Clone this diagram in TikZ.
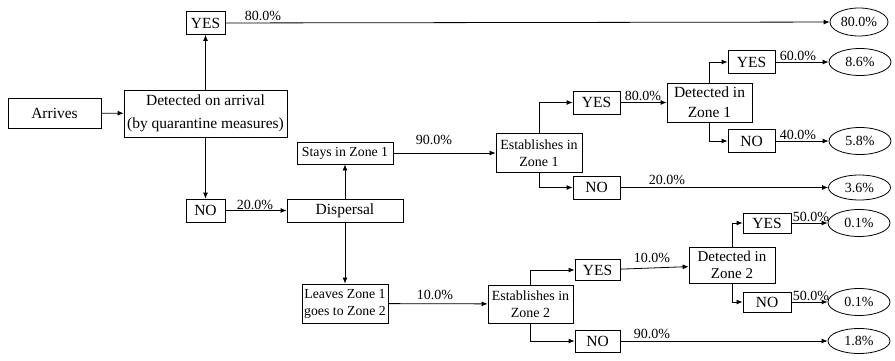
\documentclass[tikz,border=0pt]{standalone}
\usepackage{fontspec}
\setmainfont{Liberation Serif}
\usetikzlibrary{shapes.geometric,arrows.meta}
\begin{document}
\begin{tikzpicture}[x=1pt,y=-1pt,
 box/.style={draw,line width=0.8pt,inner sep=0pt,align=center,font=\fontsize{15.5}{23}\selectfont},
 zbox/.style={box,font=\fontsize{13.8}{17}\selectfont},
 res/.style={draw,ellipse,line width=0.8pt,inner sep=0pt,minimum width=62pt,minimum height=27pt,font=\fontsize{14}{16}\selectfont},
 arr/.style={line width=0.8pt,-{Latex[length=6pt,width=5pt]}},
 pct/.style={font=\fontsize{14}{16}\selectfont,inner sep=1pt,anchor=south}]
\useasboundingbox (0,0) rectangle (895,361);
% first stage
\node[box,minimum width=93pt,minimum height=30pt] (arr) at (54.5,113) {Arrives};
\node[box,minimum width=163pt,minimum height=47pt] (det) at (205.5,113.5) {Detected on arrival\\(by quarantine measures)};
\node[box,minimum width=39pt,minimum height=23pt] (yes0) at (205.5,23) {YES};
\node[box,minimum width=39pt,minimum height=23pt] (no0) at (205.5,210.5) {NO};
\node[box,minimum width=116pt,minimum height=23pt] (disp) at (345,210.5) {Dispersal};
\node[zbox,minimum width=96pt,minimum height=22pt] (stay) at (345,153) {Stays in Zone 1};
\node[zbox,minimum width=86pt,minimum height=39pt] (leave) at (345,303.5) {Leaves Zone 1\\goes to Zone 2};
\node[res,minimum width=58pt,minimum height=28pt] (e0) at (859,22) {80.0\%};
% zone 1
\node[zbox,minimum width=86pt,minimum height=39pt,font=\fontsize{14}{17}\selectfont] (est1) at (539,153) {Establishes in\\Zone 1};
\node[box,minimum width=47pt,minimum height=23pt] (yes1) at (596.5,102.5) {YES};
\node[box,minimum width=47pt,minimum height=23pt] (no1) at (596.5,187.5) {NO};
\node[box,minimum width=85pt,minimum height=39pt,font=\fontsize{15.5}{20}\selectfont] (det1) at (709.5,102.5) {Detected in\\Zone 1};
\node[box,minimum width=47pt,minimum height=23pt] (yes11) at (751.5,62) {YES};
\node[box,minimum width=47pt,minimum height=23pt] (no11) at (751.5,141) {NO};
\node[res] (e11) at (860,62) {8.6\%};
\node[res] (e12) at (860,141) {5.8\%};
\node[res,minimum height=25pt] (e13) at (859.5,187.5) {3.6\%};
% zone 2
\node[zbox,minimum width=85pt,minimum height=38pt,font=\fontsize{14}{17}\selectfont] (est2) at (530.5,304) {Establishes in\\Zone 2};
\node[box,minimum width=45pt,minimum height=21pt] (yes2) at (597.5,270) {YES};
\node[box,minimum width=45pt,minimum height=22pt] (no2) at (597.5,341) {NO};
\node[box,minimum width=86pt,minimum height=36pt,font=\fontsize{15}{17.5}\selectfont] (det2) at (732,265) {Detected in\\Zone 2};
\node[box,minimum width=48pt,minimum height=20pt] (yes21) at (767,223) {YES};
\node[box,minimum width=48pt,minimum height=20pt] (no21) at (767,302) {NO};
\node[res] (e21) at (859,223) {0.1\%};
\node[res] (e22) at (859,302) {0.1\%};
\node[res,minimum height=25pt] (e23) at (859,341) {1.8\%};
% connectors
\draw[arr] (arr) -- (det);
\draw[arr] (det) -- (yes0);
\draw[arr] (det) -- (no0);
\draw[arr] (yes0) -- (e0);
\draw[arr] (no0) -- (disp);
\draw[arr] (disp) -- (stay);
\draw[arr] (disp) -- (leave);
\draw[arr] (stay) -- (est1);
\draw[arr] (leave) -- (est2);
\draw[arr] (est1.north) |- (yes1.west);
\draw[arr] (est1.south) |- (no1.west);
\draw[arr] (yes1) -- (det1);
\draw[arr] (no1) -- (e13);
\draw[arr] (det1.north) |- (yes11.west);
\draw[arr] (det1.south) |- (no11.west);
\draw[arr] (yes11) -- (e11);
\draw[arr] (no11) -- (e12);
\draw[arr] (est2.north) |- (yes2.west);
\draw[arr] (est2.south) |- (no2.west);
\draw[arr] (yes2) -- (det2);
\draw[arr] (no2) -- (e23);
\draw[arr] (det2.north) |- (yes21.west);
\draw[arr] (det2.south) |- (no21.west);
\draw[arr] (yes21) -- (e21);
\draw[arr] (no21) -- (e22);
% percentages
\node[pct] (p0) at (263,22) {80.0\%};
\node[pct] (p1) at (255,210.5) {20.0\%};
\node[pct] (p2) at (434,146) {90.0\%};
\node[pct] (p3) at (435,301) {10.0\%};
\node[pct] (p4) at (643,102) {80.0\%};
\node[pct] (p5) at (667,186) {20.0\%};
\node[pct] (p6) at (798,62) {60.0\%};
\node[pct] (p7) at (798,141) {40.0\%};
\node[pct] (p8) at (652,264) {10.0\%};
\node[pct] (p9) at (652,340) {90.0\%};
\node[pct] (p10) at (811,222.5) {50.0\%};
\node[pct] (p11) at (811,301.5) {50.0\%};
\end{tikzpicture}
\end{document}
